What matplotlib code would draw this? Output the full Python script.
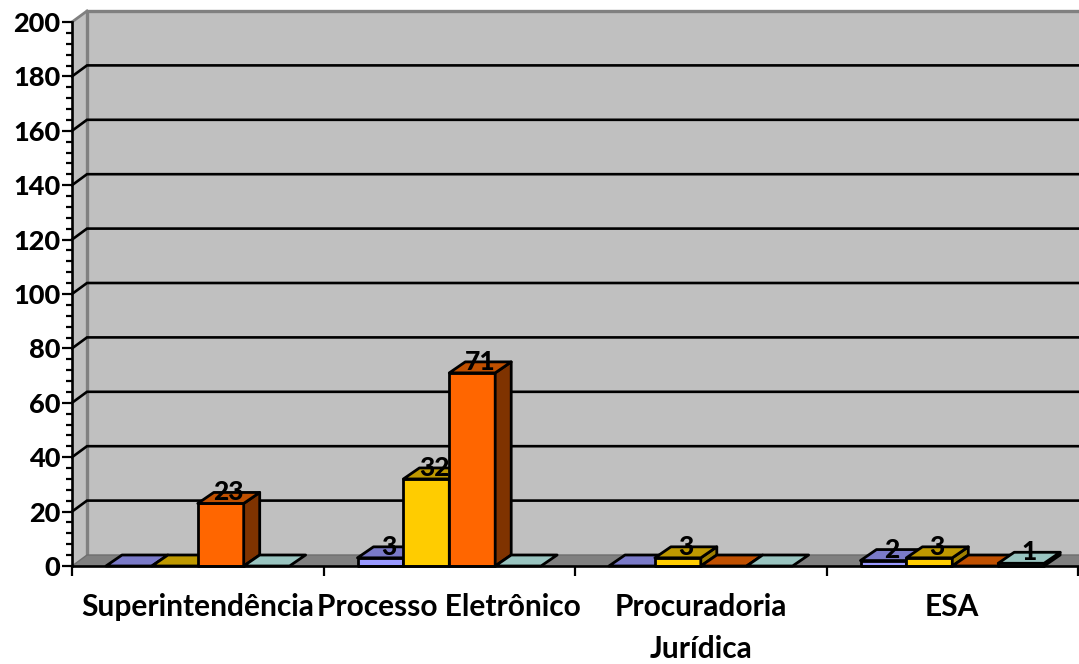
import matplotlib
matplotlib.use("Agg")
import matplotlib.pyplot as plt
from matplotlib.patches import Polygon
from matplotlib.ticker import MultipleLocator, NullFormatter

categories = ["Superintendência", "Processo Eletrônico", "Procuradoria\nJurídica", "ESA"]
serie_azul = [0, 3, 0, 2]
serie_amarela = [0, 32, 3, 3]
serie_laranja = [23, 71, 0, 0]
serie_verde = [0, 0, 0, 1]
series = [serie_azul, serie_amarela, serie_laranja, serie_verde]

front_colors = ["#9999FF", "#FFCC00", "#FF6600", "#CCFFFF"]
top_colors = ["#7A7AC8", "#BF9900", "#C05000", "#99C4C0"]
side_colors = ["#4C4C80", "#A08000", "#7F3300", "#668080"]

plt.rcParams["font.family"] = ["Lato", "DejaVu Sans"]

W, H = 1079, 664
fig = plt.figure(figsize=(W / 100, H / 100), dpi=100, facecolor="white")
ax = fig.add_axes([72 / W, (H - 566) / H, 1006 / W, 544 / H])
ax.set_xlim(0, 4)
ax.set_ylim(0, 200)
ax.set_facecolor("none")

px_x = 4 / 1006
px_y = 200 / 544
DX = 15 * px_x
DY = 11 * px_y
BDX = 16 * px_x
BW = 45.9 * px_x
OFF = 34 * px_x
XMAX = 4.01


def poly(pts, face, edge="black", lw=2.0, z=2):
    ax.add_patch(Polygon(pts, closed=True, facecolor=face, edgecolor=edge,
                         linewidth=lw, joinstyle="round", zorder=z, clip_on=False))


# walls and floor
poly([(0, 0), (DX, DY), (DX, 200 + DY), (0, 200)], "#C0C0C0", edge="none", z=1)
poly([(DX, DY), (XMAX, DY), (XMAX, 200 + DY), (DX, 200 + DY)], "#C0C0C0", edge="none", z=1)
poly([(0, 0), (XMAX, 0), (XMAX, DY), (DX, DY)], "#808080", edge="none", z=1)
ax.plot([DX, DX, XMAX], [DY, 200 + DY, 200 + DY], color="#808080", lw=2.4,
        zorder=1.5, clip_on=False, solid_joinstyle="miter")
ax.plot([0, DX, XMAX], [0, DY, DY], color="#6E6E6E", lw=1.0, zorder=1.5, clip_on=False)
ax.plot([0, DX], [200, 200 + DY], color="#808080", lw=2.0, zorder=1.5, clip_on=False)

# gridlines on the side and back walls
for v in range(20, 181, 20):
    ax.plot([0, DX, XMAX], [v, v + DY, v + DY], color="black", lw=1.9,
            zorder=1.6, clip_on=False, solid_joinstyle="miter")

# bars
for s, values in enumerate(series):
    for c, v in enumerate(values):
        x0 = c + OFF + s * BW
        x1 = x0 + BW
        if v > 0:
            poly([(x0, 0), (x1, 0), (x1, v), (x0, v)], front_colors[s], z=3 + s)
            poly([(x1, 0), (x1 + BDX, DY), (x1 + BDX, v + DY), (x1, v)], side_colors[s], z=3 + s)
        poly([(x0, v), (x1, v), (x1 + BDX, v + DY), (x0 + BDX, v + DY)], top_colors[s], z=3 + s)
        if v > 0:
            ax.text((x0 + x1) / 2 + BDX / 2, v + DY, str(v), ha="center", va="center",
                    fontsize=19, fontweight=900, color="black", zorder=10)

# axes
for name in ("top", "right"):
    ax.spines[name].set_visible(False)
for name in ("left", "bottom"):
    ax.spines[name].set_linewidth(1.9)
    ax.spines[name].set_zorder(8)
ax.yaxis.set_major_locator(MultipleLocator(20))
ax.yaxis.set_minor_locator(MultipleLocator(4))
ax.yaxis.set_minor_formatter(NullFormatter())
ax.tick_params(axis="y", which="major", length=7.5, width=1.6, pad=1, labelsize=19.5)
ax.tick_params(axis="y", which="minor", length=4.5, width=1.6)
for lab in ax.get_yticklabels():
    lab.set_fontweight(900)
ax.set_xticks(range(5))
ax.set_xticklabels([""] * 5)
ax.tick_params(axis="x", which="major", length=7.5, width=1.6)
ax.set_xticks([i + 0.5 for i in range(4)], categories, minor=True, fontsize=21.5, fontweight="bold")
ax.tick_params(axis="x", which="minor", length=0, pad=19.5)
for lab in ax.get_xticklabels(minor=True):
    lab.set_linespacing(1.62)

fig.savefig("out.png", dpi=100, facecolor="white")
